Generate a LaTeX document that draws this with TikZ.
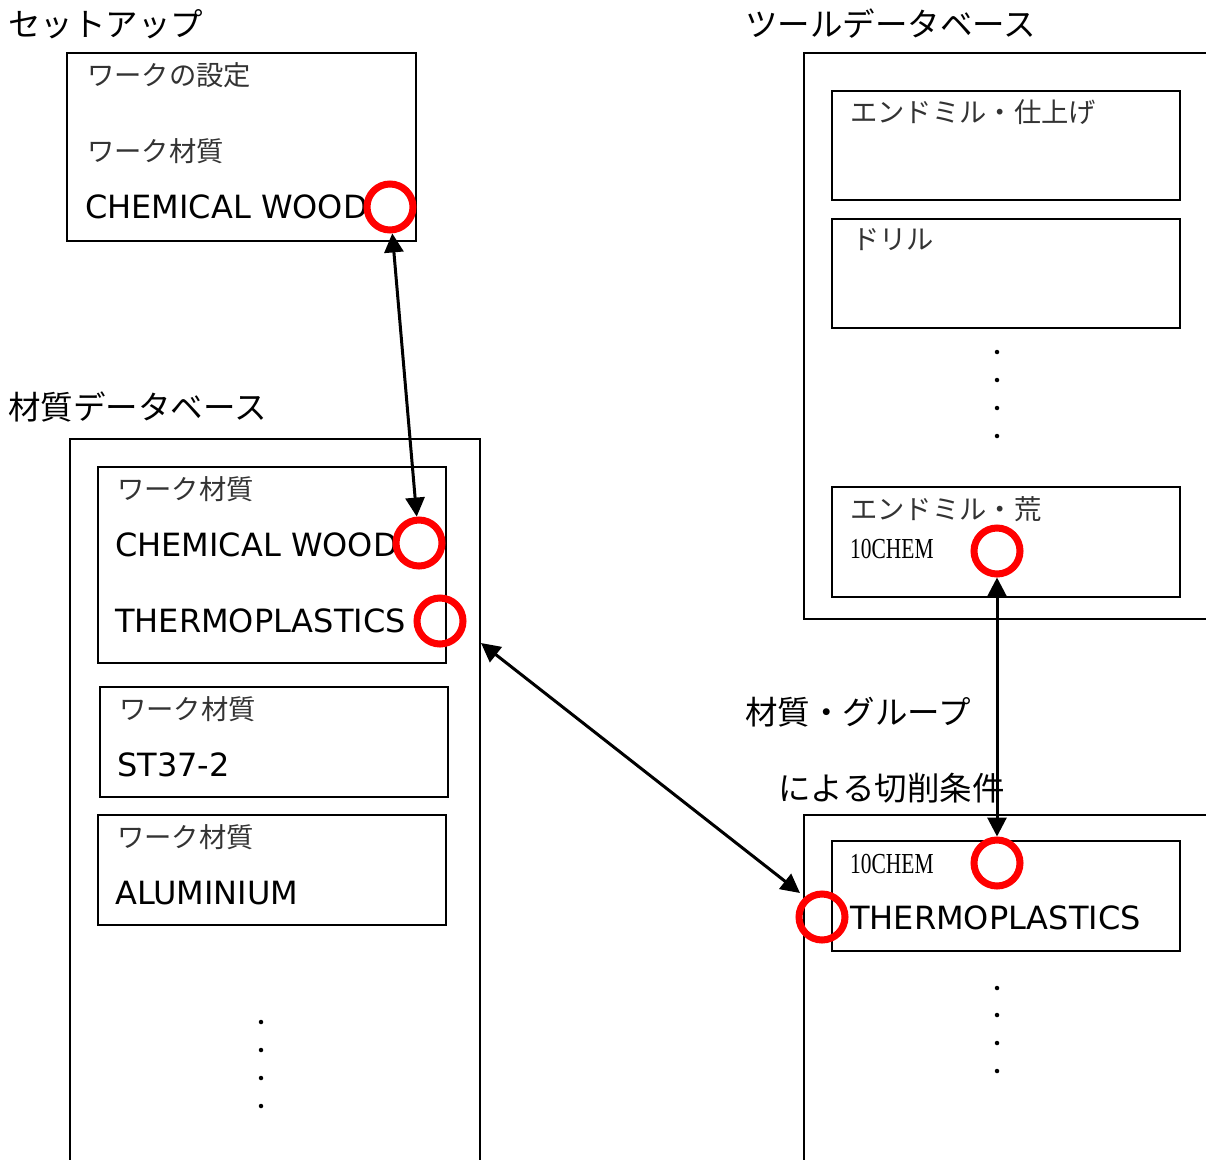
\documentclass[tikz,border=0pt]{standalone}
\usepackage{fontspec}
\setmainfont{DejaVu Sans}
\newfontfamily\cjk{Noto Sans CJK JP}
\newfontfamily\serifnum{Liberation Serif}
\usetikzlibrary{arrows.meta}
\tikzset{
  box/.style={draw=black, line width=1.9pt},
  title/.style={anchor=west, inner sep=0pt, font=\cjk\fontsize{32.5pt}{36pt}\selectfont},
  jlabel/.style={anchor=west, inner sep=0pt, text=black!80, font=\cjk\fontsize{27.3pt}{30pt}\selectfont},
  elabel/.style={anchor=west, inner sep=0pt, font=\fontsize{32pt}{36pt}\selectfont},
  code/.style={anchor=west, inner sep=0pt, font=\serifnum\fontsize{29pt}{32pt}\selectfont},
  ring/.style={circle, draw=red, line width=7pt, minimum size=46pt, inner sep=0pt},
  dot/.style={circle, fill=black, minimum size=4.5pt, inner sep=0pt},
  link/.style={line width=3pt, {Triangle[length=19pt,width=19pt]}-{Triangle[length=19pt,width=19pt]}},
}
\begin{document}
\begin{tikzpicture}[x=1pt,y=-1pt]
\useasboundingbox (0,0) rectangle (1206,1159);

% ---- Setup ----
\node[title] (tsetup) at (8,24) {セットアップ};
\draw[box] (67,53) rectangle (416,241);
\node[jlabel] (ws) at (87,75) {ワークの設定};
\node[jlabel] (wm0) at (87,151) {ワーク材質};
\node[elabel] (cw0) at (85,207) {CHEMICAL WOOD};
\node[ring] (r1) at (390,207) {};

% ---- Material DB ----
\node[title] (tmat) at (8,407) {材質データベース};
\draw[box] (70,1162) -- (70,439) -- (480,439) -- (480,1162);
\draw[box] (98,467) rectangle (446,663);
\node[jlabel] (wm1) at (117,489) {ワーク材質};
\node[elabel] (cw1) at (115,545) {CHEMICAL WOOD};
\node[ring] (r2) at (419,543) {};
\node[elabel] (tp1) at (115,621) {THERMOPLASTICS};
\node[ring] (r3) at (440,621) {};
\draw[box] (100,687) rectangle (448,797);
\node[jlabel] (wm2) at (119,709) {ワーク材質};
\node[elabel] (st) at (117,765) {ST37-2};
\draw[box] (98,815) rectangle (446,925);
\node[jlabel] (wm3) at (117,837) {ワーク材質};
\node[elabel] (al) at (115,893) {ALUMINIUM};
\foreach \yy [count=\i] in {1022,1050,1078,1106} \node[dot] (md\i) at (261,\yy) {};

% ---- Tool DB ----
\node[title] (ttool) at (745,24) {ツールデータベース};
\draw[box] (1210,53) -- (804,53) -- (804,619) -- (1210,619);
\draw[box] (832,91) rectangle (1180,200);
\node[jlabel] (em1) at (850,112) {エンドミル・仕上げ};
\draw[box] (832,219) rectangle (1180,328);
\node[jlabel] (dr) at (852,240) {ドリル};
\foreach \yy [count=\i] in {352,380,408,436} \node[dot] (td\i) at (997,\yy) {};
\draw[box] (832,487) rectangle (1180,597);
\node[jlabel] (em2) at (850,509) {エンドミル・荒};
\node[code] (c1) at (850,549) {\scalebox{0.74}[1]{10CHEM}};
\node[ring] (r4) at (997,551) {};

% ---- Cutting conditions ----
\node[title] (tcut1) at (745,712) {材質・グループ};
\node[title] (tcut2) at (778,788) {による切削条件};
\draw[box] (1210,815) -- (804,815) -- (804,1162);
\draw[box] (832,841) rectangle (1180,951);
\node[code] (c2) at (850,864) {\scalebox{0.74}[1]{10CHEM}};
\node[elabel] (tp2) at (850,918) {THERMOPLASTICS};
\node[ring] (r5) at (997,863) {};
\node[ring] (r6) at (822,917) {};
\foreach \yy [count=\i] in {988,1015,1043,1071} \node[dot] (cd\i) at (997,\yy) {};

% ---- connectors ----
\coordinate (a1) at (481,643);
\coordinate (a2) at (800,893);
\draw[link] (r1) -- (r2);
\draw[link] (r4) -- (r5);
\draw[link] (a1) -- (a2);
\end{tikzpicture}
\end{document}
